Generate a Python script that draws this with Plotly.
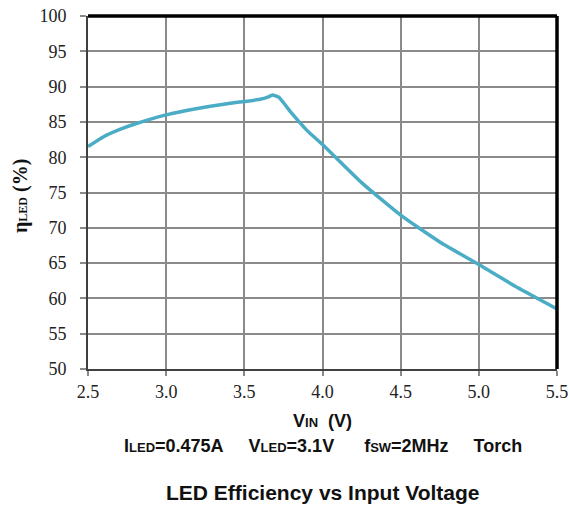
import plotly.graph_objects as go

vin = [2.5, 2.6, 2.7, 2.8, 3.0, 3.2, 3.4, 3.6, 3.65, 3.68, 3.72, 3.8, 3.9, 4.0, 4.25, 4.5, 4.75, 5.0, 5.25, 5.5]
eff = [81.5, 82.9, 83.9, 84.7, 86.0, 86.9, 87.6, 88.2, 88.5, 88.8, 88.5, 86.3, 83.8, 81.8, 76.4, 71.8, 68.0, 64.8, 61.5, 58.5]

x_ticks = [2.5, 3.0, 3.5, 4.0, 4.5, 5.0, 5.5]
x_tick_labels = ["2.5", "3.0", "3.5", "4.0", "4.5", "5.0", "5.5"]
y_ticks = [50, 55, 60, 65, 70, 75, 80, 85, 90, 95, 100]

serif = "Liberation Serif"
sans = "Liberation Sans"

fig = go.Figure()
fig.add_trace(go.Scatter(
    x=vin, y=eff, mode="lines",
    line=dict(color="#4bacc6", width=3.5, shape="spline", smoothing=0.5),
    showlegend=False, hoverinfo="skip",
))

sp = "&nbsp;" * 5
fig.update_layout(
    width=570, height=506,
    margin=dict(l=88, r=13, t=16, b=137, autoexpand=False),
    paper_bgcolor="white", plot_bgcolor="white",
    xaxis=dict(
        range=[2.5, 5.5], tickvals=x_ticks, ticktext=x_tick_labels,
        showgrid=True, gridcolor="#8a8a8a", gridwidth=2,
        showline=True, linecolor="#404040", linewidth=2,
        ticks="outside", ticklen=5, tickcolor="#8a8a8a", tickwidth=1.5,
        tickfont=dict(family=serif, size=18, color="#222"),
        zeroline=False, fixedrange=True, automargin=False,
    ),
    yaxis=dict(
        range=[50, 100], tickvals=y_ticks,
        showgrid=True, gridcolor="#8a8a8a", gridwidth=2,
        showline=True, linecolor="#404040", linewidth=2,
        ticks="outside", ticklen=6, tickcolor="#8a8a8a", tickwidth=1.5,
        tickfont=dict(family=serif, size=18, color="#222"),
        ticklabelstandoff=10,
        zeroline=False, fixedrange=True, automargin=False,
    ),
    shapes=[
        dict(type="line", xref="paper", yref="paper", x0=0, x1=1, y0=1, y1=1,
             line=dict(color="black", width=3.5), layer="above"),
        dict(type="line", xref="paper", yref="paper", x0=1, x1=1, y0=0, y1=1,
             line=dict(color="black", width=3.5), layer="above"),
    ],
    annotations=[
        dict(xref="paper", yref="paper", x=-0.145, y=0.49, textangle=-90,
             text="<b>η<span style='font-size:12px'>LED</span> (%)</b>",
             showarrow=False, font=dict(family=serif, size=20, color="#111"),
             xanchor="center", yanchor="middle"),
        dict(xref="paper", yref="paper", x=0.5, y=-0.148,
             text="<b>V<span style='font-size:13px'>IN</span>&nbsp;&nbsp;(V)</b>",
             showarrow=False, font=dict(family=sans, size=18, color="#111"),
             xanchor="center", yanchor="middle"),
        dict(xref="paper", yref="paper", x=0.5, y=-0.218,
             text=("<b>I<span style='font-size:13px'>LED</span>=0.475A" + sp +
                   "V<span style='font-size:13px'>LED</span>=3.1V" + sp + "&nbsp;" +
                   "f<span style='font-size:13px'>SW</span>=2MHz" + sp + "Torch</b>"),
             showarrow=False, font=dict(family=sans, size=18, color="#111"),
             xanchor="center", yanchor="middle"),
        dict(xref="paper", yref="paper", x=0.5, y=-0.35,
             text="<b>LED Efficiency vs Input Voltage</b>",
             showarrow=False, font=dict(family=sans, size=21, color="#111"),
             xanchor="center", yanchor="middle"),
    ],
)

fig.write_html("out.html", config={"displayModeBar": False},
               post_script="document.body.style.margin='0';")
